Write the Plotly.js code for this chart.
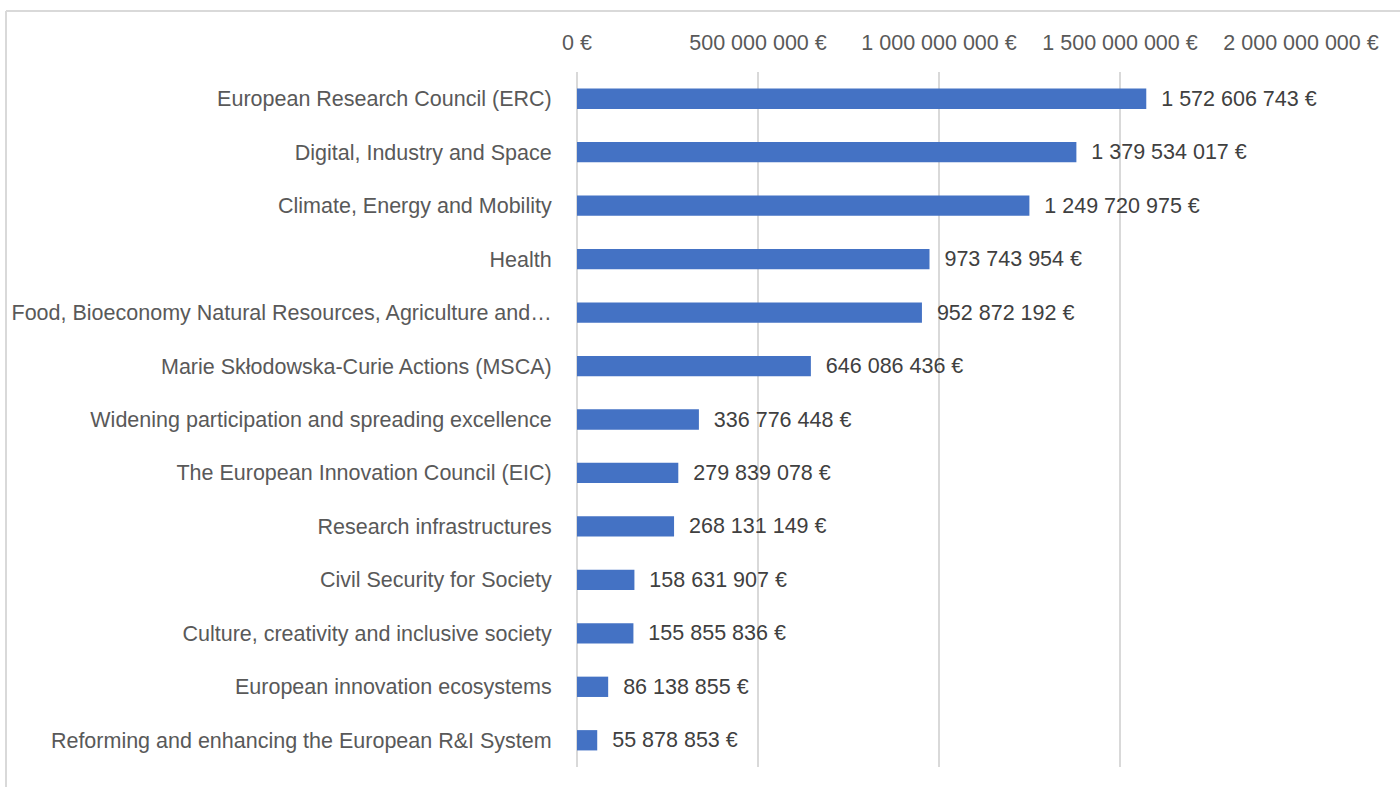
<!DOCTYPE html>
<html>
<head>
<meta charset="utf-8">
<script src="https://cdn.plot.ly/plotly-3.0.1.min.js"></script>
<style>
html,body{margin:0;padding:0;background:#fff;}
#chart{width:1400px;height:787px;}
</style>
</head>
<body>
<div id="chart"></div>
<script>
const categories = [
  "European Research Council (ERC)",
  "Digital, Industry and Space",
  "Climate, Energy and Mobility",
  "Health",
  "Food, Bioeconomy Natural Resources, Agriculture and…",
  "Marie Skłodowska-Curie Actions (MSCA)",
  "Widening participation and spreading excellence",
  "The European Innovation Council (EIC)",
  "Research infrastructures",
  "Civil Security for Society",
  "Culture, creativity and inclusive society",
  "European innovation ecosystems",
  "Reforming and enhancing the European R&I System"
];
const values = [
  1572606743, 1379534017, 1249720975, 973743954, 952872192, 646086436,
  336776448, 279839078, 268131149, 158631907, 155855836, 86138855, 55878853
];
const tickValues = [0, 500000000, 1000000000, 1500000000, 2000000000];
const tickLabels = ["0 €", "500 000 000 €", "1 000 000 000 €", "1 500 000 000 €", "2 000 000 000 €"];

const FONT = "Liberation Sans, Arial, sans-serif";
const FS = 21.5;

const trace = {
  type: "bar",
  orientation: "h",
  x: values,
  y: categories,
  marker: {color: "#4472C4"},
  texttemplate: "\u00a0\u00a0%{x:,d} €",
  textposition: "outside",
  textfont: {family: FONT, size: FS, color: "#404040"},
  constraintext: "none",
  cliponaxis: false,
  hoverinfo: "none"
};

const layout = {
  width: 1400,
  height: 787,
  separators: ", ",
  margin: {l: 577, r: 99, t: 72, b: 20},
  paper_bgcolor: "#ffffff",
  plot_bgcolor: "#ffffff",
  showlegend: false,
  bargap: 0.62,
  uniformtext: {mode: false},
  font: {family: FONT, size: FS, color: "#595959"},
  xaxis: {
    side: "top",
    range: [0, 2000000000],
    tickmode: "array",
    tickvals: tickValues,
    ticktext: tickLabels,
    ticks: "outside",
    ticklen: 12,
    tickcolor: "rgba(0,0,0,0)",
    showgrid: true,
    gridcolor: "#d9d9d9",
    gridwidth: 1.5,
    zeroline: true,
    zerolinecolor: "#d9d9d9",
    zerolinewidth: 1.5,
    showline: false,
    tickfont: {family: FONT, size: FS, color: "#595959"},
    fixedrange: true
  },
  yaxis: {
    autorange: "reversed",
    ticks: "outside",
    ticklen: 20,
    tickcolor: "rgba(0,0,0,0)",
    showgrid: false,
    showline: false,
    tickfont: {family: FONT, size: FS, color: "#595959"},
    fixedrange: true
  },
  shapes: [
    {type: "line", xref: "paper", yref: "paper", x0: -0.7887, x1: 1.2, y0: 1.0878, y1: 1.0878,
     line: {color: "#d9d9d9", width: 2}},
    {type: "line", xref: "paper", yref: "paper", x0: -0.7887, x1: -0.7887, y0: 1.0878, y1: -0.05,
     line: {color: "#d9d9d9", width: 2}}
  ]
};

Plotly.newPlot("chart", [trace], layout, {displayModeBar: false, staticPlot: true});
</script>
</body>
</html>
